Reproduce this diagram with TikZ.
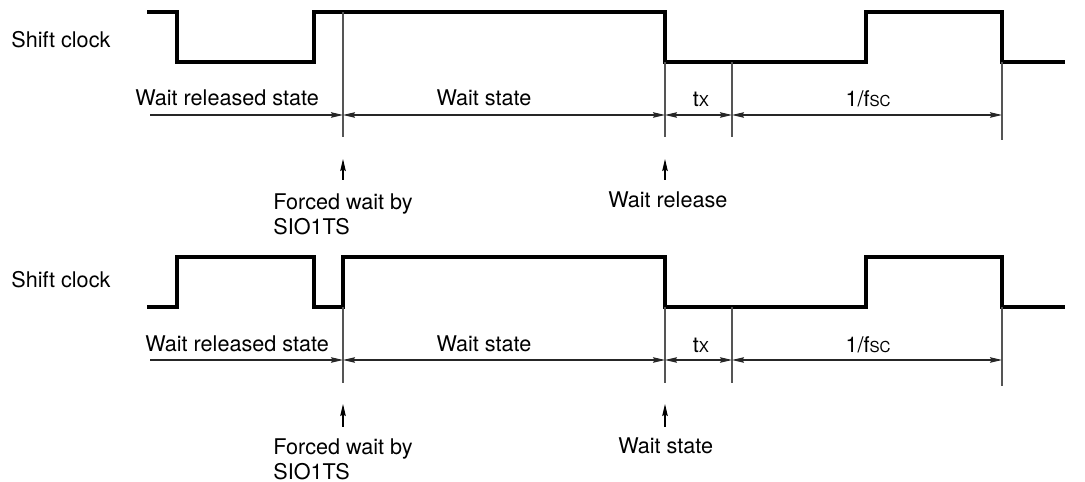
\documentclass[tikz,border=0pt]{standalone}
\usepackage{fontspec}
\setmainfont{TeX Gyre Heros}
\usepackage{tikz}
\usetikzlibrary{arrows.meta,positioning,calc}
\definecolor{lineGray}{HTML}{555555}
\newcommand{\smc}[1]{{\fontsize{8.6}{10}\selectfont #1}}

\begin{document}
\begin{tikzpicture}[x=0.02cm,y=-0.02cm,
    clk/.style={line width=2pt,line join=miter},
    tick/.style={lineGray,line width=0.6pt},
    dim/.style={black!85,line width=0.6pt},
    tip/.style={-{Stealth[length=0.24cm,width=0.11cm,inset=0.03cm]}},
    both/.style={{Stealth[length=0.24cm,width=0.11cm,inset=0.03cm]}-{Stealth[length=0.24cm,width=0.11cm,inset=0.03cm]}},
    lbl/.style={inner sep=0pt,font=\fontsize{12.3}{14.2}\selectfont}]
    \useasboundingbox (0,0) rectangle (1085,482);
    % first clock: forced wait while high
    \node[lbl,anchor=base west] (sc1) at (11,48) {Shift clock};
    \draw[clk] (147,12) -| (177,62) -| (314,12) -| (665,62) -| (866,12) -| (1002,62) -- (1065,62);
    \coordinate (s1) at (343,12);   \coordinate (s1b) at (343,137);
    \coordinate (r1) at (665,62);   \coordinate (r1b) at (665,137);
    \coordinate (x1) at (732,62);   \coordinate (x1b) at (732,137);
    \coordinate (f1) at (1002,62);  \coordinate (f1b) at (1002,140);
    \draw[tick] (s1)--(s1b);
    \draw[tick] (r1)--(r1b);
    \draw[tick] (x1)--(x1b);
    \draw[tick] (f1)--(f1b);
    \coordinate (w1) at (150,115);
    \draw[dim,tip] (w1)--(w1 -| s1);
    \draw[dim,both] (s1 |- w1)--(r1 |- w1);
    \draw[dim,both] (r1 |- w1)--(x1 |- w1);
    \draw[dim,both] (x1 |- w1)--(f1 |- w1);
    \node[lbl,anchor=base west] (wr1) at (135,106) {Wait released state};
    \node[lbl,anchor=base] (ws1) at (484,106) {Wait state};
    \node[lbl,anchor=base] (tx1) at (701,107) {t\smc{X}};
    \node[lbl,anchor=base] (fsc1) at (868,107) {1/f\smc{SC}};
    \coordinate (u1) at (343,180);  \coordinate (u1b) at (343,159);
    \coordinate (v1) at (665,180);  \coordinate (v1b) at (665,159);
    \draw[dim,tip,black] (u1)--(u1b);
    \draw[dim,tip,black] (v1)--(v1b);
    \node[lbl,anchor=north west,align=left] (fw1) at (273,193) {Forced wait by\\SIO1TS};
    \node[lbl,anchor=base west] (rel1) at (608,208) {Wait release};

    % second clock: forced wait while low
    \node[lbl,anchor=base west] (sc2) at (11,288) {Shift clock};
    \draw[clk] (147,307) -| (177,257) -| (314,307) -| (343,257) -| (665,307) -| (866,257) -| (1002,307) -- (1065,307);
    \coordinate (s2) at (343,307);  \coordinate (s2b) at (343,383);
    \coordinate (r2) at (665,307);  \coordinate (r2b) at (665,383);
    \coordinate (x2) at (732,307);  \coordinate (x2b) at (732,383);
    \coordinate (f2) at (1002,307); \coordinate (f2b) at (1002,386);
    \draw[tick] (s2)--(s2b);
    \draw[tick] (r2)--(r2b);
    \draw[tick] (x2)--(x2b);
    \draw[tick] (f2)--(f2b);
    \coordinate (w2) at (150,360);
    \draw[dim,tip] (w2)--(w2 -| s2);
    \draw[dim,both] (s2 |- w2)--(r2 |- w2);
    \draw[dim,both] (r2 |- w2)--(x2 |- w2);
    \draw[dim,both] (x2 |- w2)--(f2 |- w2);
    \node[lbl,anchor=base west] (wr2) at (145,352) {Wait released state};
    \node[lbl,anchor=base] (ws2) at (484,352) {Wait state};
    \node[lbl,anchor=base] (tx2) at (701,353) {t\smc{X}};
    \node[lbl,anchor=base] (fsc2) at (868,353) {1/f\smc{SC}};
    \coordinate (u2) at (343,427);  \coordinate (u2b) at (343,404);
    \coordinate (v2) at (665,427);  \coordinate (v2b) at (665,404);
    \draw[dim,tip,black] (u2)--(u2b);
    \draw[dim,tip,black] (v2)--(v2b);
    \node[lbl,anchor=north west,align=left] (fw2) at (273,438) {Forced wait by\\SIO1TS};
    \node[lbl,anchor=base west] (st2) at (618,454) {Wait state};
\end{tikzpicture}
\end{document}
